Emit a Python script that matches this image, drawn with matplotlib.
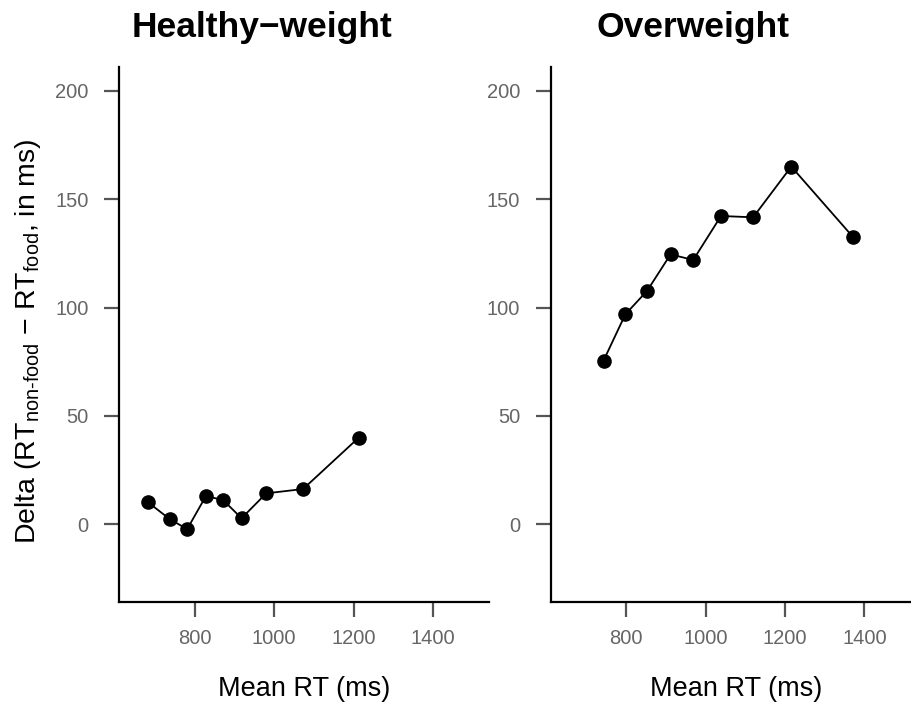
import matplotlib
matplotlib.use("Agg")
import matplotlib.pyplot as plt

plt.rcParams['font.family'] = ['Liberation Sans', 'DejaVu Sans']
plt.rcParams['mathtext.fontset'] = 'custom'
plt.rcParams['mathtext.rm'] = 'Liberation Sans'
plt.rcParams['mathtext.it'] = 'Liberation Sans'
plt.rcParams['mathtext.bf'] = 'Liberation Sans:bold'

# Data
healthy_rt = [683, 737, 781, 828, 871, 918, 980, 1073, 1213]
healthy_delta = [10.1, 2.4, -2.2, 13.0, 11.3, 2.8, 14.3, 16.3, 40.0]
over_rt = [743, 798, 853, 912, 969, 1039, 1120, 1216, 1372]
over_delta = [75.5, 96.9, 107.8, 124.6, 122.0, 142.3, 141.7, 165.1, 132.5]
titles = ["Healthy\u2212weight", "Overweight"]
xticks = [800, 1000, 1200, 1400]
yticks = [0, 50, 100, 150, 200]

W, H = 911, 705
fig = plt.figure(figsize=(W / 100, H / 100), dpi=100)

def add_ax(left_px, top_px, w_px, h_px):
    return fig.add_axes([left_px / W, (H - top_px - h_px) / H, w_px / W, h_px / H])

ax_w, ax_h = 370, 535
axes = [add_ax(119.3, 66.7, ax_w, ax_h), add_ax(550.7, 66.7, ax_w, ax_h)]
data = [(healthy_rt, healthy_delta), (over_rt, over_delta)]
title_x = [262, 693]

for ax, (x, y), t, tx in zip(axes, data, titles, title_x):
    ax.plot(x, y, color='black', lw=1.3, marker='o', ms=9.5, mfc='black', mec='black')
    ax.set_xlim(610, 1542)
    ax.set_ylim(-35.7, 211.2)
    ax.set_xticks(xticks)
    ax.set_yticks(yticks)
    for s in ['top', 'right']:
        ax.spines[s].set_visible(False)
    for s in ['left', 'bottom']:
        ax.spines[s].set_linewidth(1.6)
        ax.spines[s].set_color('black')
    ax.tick_params(axis='both', direction='out', length=11, width=1.6, color='#555555',
                   labelcolor='#666666', labelsize=14.5)
    ax.tick_params(axis='y', pad=11)
    ax.tick_params(axis='x', pad=9)
    ax.set_xlabel('Mean RT (ms)', fontsize=19.5, labelpad=20)
    fig.text(tx / W, (H - 37) / H, t, ha='center', va='baseline', fontsize=25.5, fontweight='bold')

fig.text(28 / W, (H - 341) / H,
         r'Delta (RT$_{\mathrm{non}\text{-}\mathrm{food}}$ $-$ RT$_{\mathrm{food}}$, in ms)',
         rotation=90, ha='center', va='center', fontsize=20.5)

fig.savefig('out.png', dpi=100)
